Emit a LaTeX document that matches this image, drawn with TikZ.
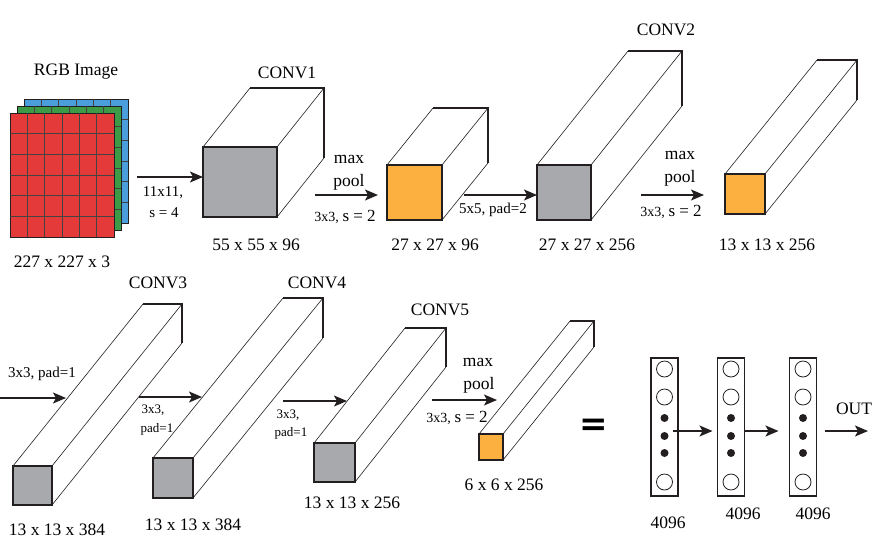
\documentclass[tikz,border=0pt]{standalone}
\usepackage{fontspec}
\setmainfont{Liberation Serif}
\setsansfont{Liberation Serif}
\newfontfamily\eqfont{DejaVu Sans}
\usepackage{tikz}
\usetikzlibrary{positioning,arrows.meta,calc}
\definecolor{convgray}{HTML}{A7A9AC}
\definecolor{poolorange}{HTML}{FBB040}
\definecolor{rgbred}{HTML}{E53A3A}
\definecolor{rgbgreen}{HTML}{3D9A47}
\definecolor{rgbblue}{HTML}{4A9EDB}
\definecolor{darkink}{HTML}{231F20}

\begin{document}
\begin{tikzpicture}[
  x=1pt, y=-1pt,
  face/.style={draw=darkink, line width=1.6pt, outer sep=0pt, inner sep=0pt},
  edge/.style={draw=darkink, line width=0.6pt},
  backedge/.style={draw=darkink, line width=1.1pt},
  gridline/.style={draw=darkink!85, line width=0.7pt},
  lbl/.style={font=\rmfamily\fontsize{17.5}{20}\selectfont, inner sep=0pt},
  optlbl/.style={font=\rmfamily\fontsize{15}{17}\selectfont, inner sep=0pt},
  optsmall/.style={font=\rmfamily\fontsize{13}{15}\selectfont, inner sep=0pt},
  fcbox/.style={draw=darkink, line width=1.6pt, outer sep=0pt, minimum width=27, minimum height=138},
  neuron/.style={draw=darkink, circle, line width=0.8pt, minimum size=16, inner sep=0pt},
  dot/.style={fill=darkink, circle, minimum size=8, inner sep=0pt},
  arr/.style={-{Stealth[length=13pt,width=11pt,inset=3pt]}, line width=1.4pt, color=darkink}
]
  \useasboundingbox (0,0) rectangle (892,558);

  % Input image (blue, green, red channels)
  \foreach \col/\s [count=\k] in {rgbblue/14,rgbgreen/7,rgbred/0} {
    \node[face, line width=0.8pt, fill=\col, minimum width=104, minimum height=124, anchor=north west] (img\k) at (10+\s,113-\s) {};
    \foreach \i in {1,...,5} {
      \draw[gridline] ($(img\k.north west)+(\i*104/6,0)$) -- ($(img\k.south west)+(\i*104/6,0)$);
      \draw[gridline] ($(img\k.north west)+(0,\i*124/6)$) -- ($(img\k.north east)+(0,\i*124/6)$);
    }
  }
  \node[lbl] (rgb) at (76,72) {RGB Image};
  \node[lbl] (rgbdim) at (62,262) {227 x 227 x 3};

  % Front faces of the feature maps
  \node[face, fill=convgray, minimum width=74, minimum height=70] (c1) at (240,182) {};
  \node[face, fill=poolorange, minimum width=55, minimum height=55] (p1) at (414.5,192.5) {};
  \node[face, fill=convgray, minimum width=54, minimum height=55] (c2) at (564,192.5) {};
  \node[face, fill=poolorange, minimum width=40, minimum height=40] (p2) at (745,194) {};
  \node[face, fill=convgray, minimum width=39, minimum height=39] (c3) at (32.5,485.5) {};
  \node[face, fill=convgray, minimum width=40, minimum height=40] (c4) at (173,478) {};
  \node[face, fill=convgray, minimum width=41, minimum height=39] (c5) at (334.5,462.5) {};
  \node[face, fill=poolorange, minimum width=24, minimum height=26] (p3) at (491,447) {};

  % Depth of each block
  \foreach \b/\dx/\dy in {c1/47/-59, p1/46/-57, c2/91/-114, p2/92/-114, c3/130/-162, c4/130/-160, c5/91/-115, p3/91/-113} {
    \draw[edge] (\b.north west) -- ++(\dx,\dy) (\b.north east) -- ++(\dx,\dy) (\b.south east) -- ++(\dx,\dy);
    \draw[backedge] ($(\b.north west)+(\dx,\dy)$) -- ($(\b.north east)+(\dx,\dy)$) -- ($(\b.south east)+(\dx,\dy)$);
  }

  % Row 1
  \coordinate (a1) at (137,177);
  \draw[arr] (a1) -- (a1 -| c1.west);
  \node[optlbl] (k1a) at (163,193) {11x11,};
  \node[optlbl] (k1b) at (164,213) {s = 4};
  \node[lbl] (c1lbl) at (287,73) {CONV1};
  \node[lbl] (c1dim) at (256,245) {55 x 55 x 96};

  \coordinate (a2) at (315,195);
  \draw[arr] (a2) -- ([xshift=-9pt]a2 -| p1.west);
  \node[lbl] (mp1a) at (349,159) {max};
  \node[lbl] (mp1b) at (349,182) {pool};
  \node[optlbl] (mp1c) at (345,217) {{\fontsize{14}{16}\selectfont 3x3,} {\fontsize{17}{19}\selectfont s = 2}};
  \node[lbl] (p1dim) at (435,245) {27 x 27 x 96};

  \coordinate (a3) at (464,195);
  \draw[arr] (a3) -- (a3 -| c2.west);
  \node[optlbl] (k2) at (493,210) {5x5, pad=2};
  \node[lbl] (c2lbl) at (666,30) {CONV2};
  \node[lbl] (c2dim) at (587,245) {27 x 27 x 256};

  \coordinate (a4) at (641,195);
  \draw[arr] (a4) -- ([xshift=-21pt]a4 -| p2.west);
  \node[lbl] (mp2a) at (680,155) {max};
  \node[lbl] (mp2b) at (680,178) {pool};
  \node[optlbl] (mp2c) at (671,212) {{\fontsize{14}{16}\selectfont 3x3,} {\fontsize{17}{19}\selectfont s = 2}};
  \node[lbl] (p2dim) at (767,245) {13 x 13 x 256};

  % Row 2
  \coordinate (b1s) at (0,398);
  \coordinate (b1e) at (66,398);
  \draw[arr] (b1s) -- (b1e);
  \node[optlbl] (k3) at (42,374) {3x3, pad=1};
  \node[lbl] (c3lbl) at (158,283) {CONV3};
  \node[lbl] (c3dim) at (57,530) {13 x 13 x 384};

  \coordinate (b2s) at (139,397);
  \coordinate (b2e) at (202,397);
  \draw[arr] (b2s) -- (b2e);
  \node[optsmall] (k4a) at (153,410) {3x3,};
  \node[optsmall] (k4b) at (157,429) {pad=1};
  \node[lbl] (c4lbl) at (317,283) {CONV4};
  \node[lbl] (c4dim) at (193,525) {13 x 13 x 384};

  \coordinate (b3s) at (283,401);
  \coordinate (b3e) at (347,401);
  \draw[arr] (b3s) -- (b3e);
  \node[optsmall] (k5a) at (288,415) {3x3,};
  \node[optsmall] (k5b) at (291,433) {pad=1};
  \node[lbl] (c5lbl) at (440,310) {CONV5};
  \node[lbl] (c5dim) at (352,503) {13 x 13 x 256};

  \coordinate (b4s) at (432,400);
  \coordinate (b4e) at (497,400);
  \draw[arr] (b4s) -- (b4e);
  \node[lbl] (mp3a) at (478,362) {max};
  \node[lbl] (mp3b) at (479,385) {pool};
  \node[optlbl] (mp3c) at (457,418) {{\fontsize{14}{16}\selectfont 3x3,} {\fontsize{17}{19}\selectfont s = 2}};
  \node[lbl] (p3dim) at (504,485) {6 x 6 x 256};

  \node[font=\eqfont\bfseries\fontsize{34}{36}\selectfont, inner sep=0pt] (eq) at (594,427) {=};

  % Fully connected layers
  \node[fcbox] (fc1) at (664.5,427) {};
  \node[fcbox] (fc2) at (731,427) {};
  \node[fcbox] (fc3) at (803,427) {};
  \foreach \f in {fc1,fc2,fc3} {
    \foreach \dy [count=\i] in {-58,-30,55}
      \node[neuron] (\f-o\i) at ($(\f.center)+(0,\dy)$) {};
    \foreach \dy [count=\i] in {-9,9,26}
      \node[dot] (\f-d\i) at ($(\f.center)+(0,\dy)$) {};
  }
  \draw[arr] ([xshift=8pt,yshift=-4pt]fc1.center) -- ([xshift=-5pt,yshift=-4pt]fc2.west);
  \draw[arr] ([yshift=-4pt]fc2.east) -- ([xshift=-11pt,yshift=-4pt]fc3.west);
  \coordinate (out) at (868,431);
  \draw[arr] ([xshift=8pt,yshift=-4pt]fc3.east) -- (out);
  \node[lbl] (outlbl) at (854,409) {OUT};
  \node[lbl] (fc1dim) at (668,523) {4096};
  \node[lbl] (fc2dim) at (743,514) {4096};
  \node[lbl] (fc3dim) at (813,514) {4096};
\end{tikzpicture}
\end{document}
